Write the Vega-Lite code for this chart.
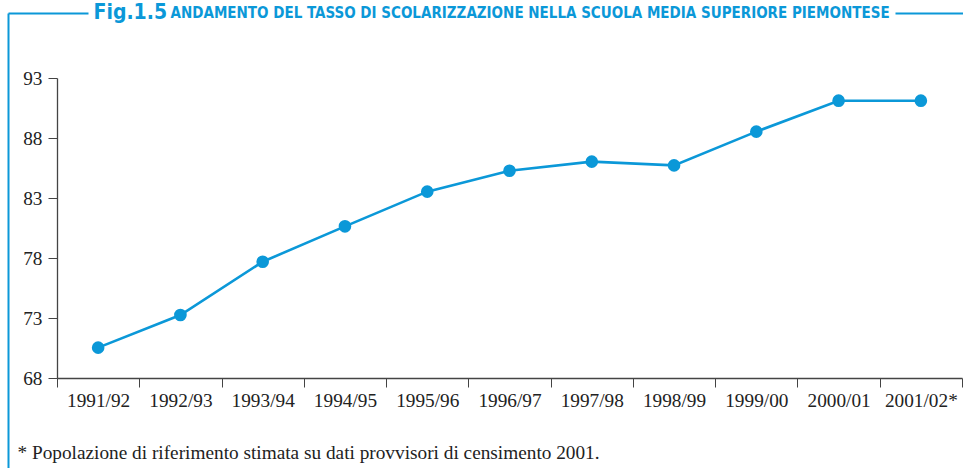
{
  "$schema": "https://vega.github.io/schema/vega-lite/v6.json",
  "width": 955,
  "height": 455,
  "autosize": {"type": "none"},
  "padding": {"left": 8, "top": 13, "right": 0, "bottom": 0},
  "background": "white",
  "config": {"view": {"stroke": null}},
  "data": {
    "values": [
      {"year": "1991/92", "rate": 70.53},
      {"year": "1992/93", "rate": 73.25},
      {"year": "1993/94", "rate": 77.69},
      {"year": "1994/95", "rate": 80.64},
      {"year": "1995/96", "rate": 83.53},
      {"year": "1996/97", "rate": 85.27},
      {"year": "1997/98", "rate": 86.03},
      {"year": "1998/99", "rate": 85.72},
      {"year": "1999/00", "rate": 88.53},
      {"year": "2000/01", "rate": 91.11},
      {"year": "2001/02*", "rate": 91.11}
    ]
  },
  "layer": [
    {
      "encoding": {
        "x": {
          "field": "year",
          "type": "ordinal",
          "sort": null,
          "scale": {"type": "band", "range": [49, 954], "paddingInner": 0, "paddingOuter": 0},
          "axis": {
            "orient": "bottom",
            "offset": -90,
            "grid": false,
            "tickBand": "extent",
            "tickSize": 9,
            "tickColor": "#444444",
            "domainColor": "#444444",
            "domainWidth": 1.3,
            "labelFont": "Liberation Serif",
            "labelFontSize": 19.3,
            "labelColor": "#222222",
            "labelPadding": 4,
            "labelAngle": 0,
            "labelOverlap": false,
            "title": "* Popolazione di riferimento stimata su dati provvisori di censimento 2001.",
            "titleX": 9,
            "titleY": 80,
            "titleAlign": "left",
            "titleAnchor": "start",
            "titleBaseline": "alphabetic",
            "titleFont": "Liberation Serif",
            "titleFontSize": 19.3,
            "titleFontWeight": "normal",
            "titleColor": "#222222"
          }
        },
        "y": {
          "field": "rate",
          "type": "quantitative",
          "scale": {"domain": [68, 93], "range": [365, 65], "nice": false, "zero": false},
          "axis": {
            "orient": "left",
            "offset": -49,
            "values": [68, 73, 78, 83, 88, 93],
            "grid": false,
            "tickSize": 9,
            "tickColor": "#444444",
            "domainColor": "#444444",
            "domainWidth": 1.3,
            "labelFont": "Liberation Serif",
            "labelFontSize": 19.3,
            "labelColor": "#222222",
            "labelPadding": 6,
            "title": null
          }
        }
      },
      "layer": [
        {"mark": {"type": "line", "color": "#0b98d8", "strokeWidth": 2.6}},
        {"mark": {"type": "point", "filled": true, "opacity": 1, "color": "#0b98d8", "size": 160}}
      ]
    },
    {
      "mark": {"type": "point", "opacity": 0},
      "encoding": {
        "x": {
          "field": "year",
          "type": "ordinal",
          "sort": null,
          "scale": {"type": "band", "range": [0, 80]},
          "axis": {
            "orient": "top",
            "offset": 0,
            "domainColor": "#0b98d8",
            "domainWidth": 2,
            "ticks": false,
            "labels": false,
            "grid": false,
            "title": "Fig.1.5",
            "titleX": 85,
            "titleY": 5,
            "titleAlign": "left",
            "titleAnchor": "start",
            "titleAngle": 0,
            "titleBaseline": "alphabetic",
            "titleFont": "DejaVu Sans Condensed",
            "titleFontSize": 21,
            "titleFontWeight": "bold",
            "titleColor": "#0b98d8"
          }
        },
        "y": {
          "field": "rate",
          "type": "quantitative",
          "scale": {"zero": false},
          "axis": {"orient": "left", "offset": 0, "domainColor": "#0b98d8", "domainWidth": 2, "ticks": false, "labels": false, "grid": false, "title": null}
        }
      }
    },
    {
      "mark": {"type": "point", "opacity": 0},
      "encoding": {
        "x": {
          "field": "year",
          "type": "ordinal",
          "sort": null,
          "scale": {"type": "band", "range": [887, 955]},
          "axis": {
            "orient": "top",
            "offset": 0,
            "domainColor": "#0b98d8",
            "domainWidth": 2,
            "ticks": false,
            "labels": false,
            "grid": false,
            "title": "ANDAMENTO DEL TASSO DI SCOLARIZZAZIONE NELLA SCUOLA MEDIA SUPERIORE PIEMONTESE",
            "titleX": 162,
            "titleY": 4,
            "titleAlign": "left",
            "titleAnchor": "start",
            "titleAngle": 0,
            "titleBaseline": "alphabetic",
            "titleFont": "DejaVu Sans Condensed",
            "titleFontSize": 15,
            "titleFontWeight": "bold",
            "titleColor": "#0b98d8"
          }
        },
        "y": {
          "field": "rate",
          "type": "quantitative",
          "scale": {"zero": false},
          "axis": null
        }
      }
    }
  ],
  "resolve": {
    "scale": {"x": "independent", "y": "independent"},
    "axis": {"x": "independent", "y": "independent"}
  }
}
